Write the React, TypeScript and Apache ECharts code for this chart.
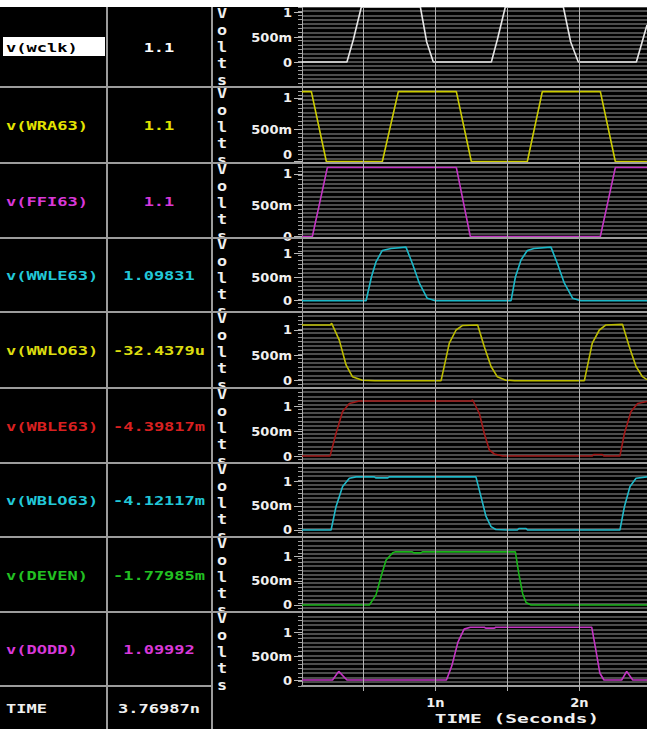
import React, { useEffect, useRef } from "react";
import * as echarts from "echarts";

// ---------- data ----------
const signalNames = ["v(wclk)", "v(WRA63)", "v(FFI63)", "v(WWLE63)", "v(WWLO63)", "v(WBLE63)", "v(WBLO63)", "v(DEVEN)", "v(DODD)"];
const cursorValues = ["1.1", "1.1", "1.1", "1.09831", "-32.4379u", "-4.39817m", "-4.12117m", "-1.77985m", "1.09992"];
const cursorTimeName = "TIME";
const cursorTimeValue = "3.76987n";
const yTitleLetters = ["V", "o", "l", "t", "s"];
const xAxisTitle = "TIME (Seconds)";
const yMajorTicks = [0, 0.5, 1];
const xGridTicks = [0.5, 1, 1.5, 2];
const xLabelTicks = [1, 2];
const timeRange = [0.074, 2.47];

const wclk = [[0.074, 0], [0.386, 0], [0.43, 0.44], [0.486, 1.1], [0.896, 1.1], [0.94, 0.4], [0.986, 0], [1.389, 0], [1.43, 0.44], [1.486, 1.1], [1.889, 1.1], [1.94, 0.4], [1.993, 0], [2.396, 0], [2.47, 0.74]];
const wra63 = [[0.074, 1.1], [0.139, 1.1], [0.243, 0], [0.632, 0], [0.743, 1.1], [1.146, 1.1], [1.25, 0], [1.639, 0], [1.743, 1.1], [2.146, 1.1], [2.25, 0], [2.47, 0]];
const ffi63 = [[0.074, 0], [0.146, 0], [0.25, 1.1], [1.146, 1.1], [1.243, 0], [2.146, 0], [2.25, 1.1], [2.47, 1.1]];
const wwle63 = [[0.074, 0], [0.519, 0], [0.556, 0.5], [0.588, 0.82], [0.632, 1.06], [0.692, 1.1], [0.796, 1.13], [0.84, 0.79], [0.889, 0.37], [0.944, 0.05], [1.0, 0], [1.526, 0], [1.556, 0.5], [1.595, 0.86], [1.639, 1.06], [1.685, 1.1], [1.803, 1.13], [1.847, 0.79], [1.896, 0.37], [1.954, 0.05], [2.01, 0], [2.47, 0]];
const wwlo63 = [[0.074, 1.1], [0.27, 1.1], [0.28, 1.13], [0.333, 0.8], [0.38, 0.31], [0.424, 0.08], [0.493, 0.01], [0.58, 0], [1.04, 0], [1.097, 0.74], [1.144, 1.0], [1.19, 1.09], [1.294, 1.1], [1.34, 0.67], [1.387, 0.28], [1.43, 0.08], [1.49, 0.01], [1.55, 0], [2.035, 0], [2.09, 0.74], [2.139, 1.0], [2.185, 1.1], [2.3, 1.11], [2.347, 0.67], [2.394, 0.28], [2.438, 0.08], [2.47, 0.02]];
const wble63 = [[0.074, 0], [0.269, 0], [0.31, 0.45], [0.356, 0.89], [0.403, 1.05], [0.472, 1.1], [1.25, 1.1], [1.259, 1.12], [1.306, 0.85], [1.34, 0.45], [1.375, 0.12], [1.41, 0.04], [1.467, 0], [2.09, 0], [2.1, 0.03], [2.16, 0.03], [2.17, 0], [2.282, 0], [2.313, 0.45], [2.359, 0.89], [2.405, 1.05], [2.47, 1.09]];
const wblo63 = [[0.074, 0], [0.276, 0], [0.31, 0.48], [0.356, 0.9], [0.403, 1.07], [0.449, 1.1], [0.576, 1.1], [0.586, 1.08], [0.67, 1.08], [0.68, 1.1], [1.282, 1.1], [1.317, 0.69], [1.352, 0.28], [1.387, 0.07], [1.42, 0.01], [1.5, 0], [1.57, 0], [1.58, 0.03], [1.63, 0.03], [1.64, 0], [2.282, 0], [2.313, 0.48], [2.352, 0.9], [2.394, 1.07], [2.47, 1.1]];
const deven = [[0.074, 0], [0.542, 0], [0.588, 0.21], [0.623, 0.59], [0.658, 0.93], [0.704, 1.08], [0.72, 1.1], [0.84, 1.1], [0.85, 1.08], [0.9, 1.08], [0.91, 1.1], [1.556, 1.1], [1.579, 0.66], [1.606, 0.24], [1.63, 0.05], [1.665, 0], [2.47, 0]];
const dodd = [[0.074, 0], [0.286, 0], [0.329, 0.18], [0.386, 0], [1.077, 0], [1.114, 0.29], [1.157, 0.79], [1.2, 1.06], [1.243, 1.1], [1.34, 1.1], [1.35, 1.08], [1.41, 1.08], [1.42, 1.1], [2.086, 1.1], [2.114, 0.64], [2.143, 0.14], [2.171, 0], [2.294, 0], [2.329, 0.18], [2.371, 0], [2.47, 0]];
const waveforms = [wclk, wra63, ffi63, wwle63, wwlo63, wble63, wblo63, deven, dodd];

// ---------- styles / layout ----------
const W = 647;
const H = 729;
const ROW_EDGES = [7, 87, 163, 238, 312, 388, 463, 537, 612, 686];
const Y_RANGES = [[-0.5, 1.1], [-0.024, 1.173], [-0.024, 1.173], [-0.238, 1.323], [-0.144, 1.355], [-0.14, 1.36], [-0.145, 1.387], [-0.145, 1.408], [-0.125, 1.417]];
const TEXT_COLORS = ["#000000", "#e4e400", "#d838d8", "#22c8d8", "#dcdc10", "#d82020", "#22c8d8", "#22c022", "#d838d8"];
const VALUE_COLORS = ["#ffffff", "#e4e400", "#d838d8", "#22c8d8", "#dcdc10", "#d82020", "#22c8d8", "#22c022", "#d838d8"];
const LINE_COLORS = ["#e6e6e6", "#cccc00", "#c434c4", "#1ab8c8", "#bcbc00", "#a01818", "#20b8c8", "#18b418", "#c434c4"];
const PLOT_LEFT = 302;
const MONO = "DejaVu Sans Mono";
const SANS = "DejaVu Sans";
const DIV_COLOR = "#9c9c9c";
const LETTER_OFFSETS = [6.5, 23.5, 40, 56, 73];
// rows whose bottom "0" label would collide with the next row's "1" label
const RAISED_ZERO_ROWS = [1];

function fmtVolt(v: number): string {
  if (Math.abs(v) < 1e-9) return "0";
  if (Math.abs(v - 0.5) < 1e-9) return "500m";
  if (Math.abs(v - 1) < 1e-9) return "1";
  return String(v);
}

function monoText(text: string, x: number, y: number, color: string, align: string, opts: any = {}) {
  return {
    type: "text",
    x,
    y,
    scaleX: opts.scaleX ?? 1.42,
    z: opts.z ?? 50,
    style: {
      text,
      fill: color,
      fontFamily: MONO,
      fontWeight: "bold",
      fontSize: opts.fontSize ?? 12,
      align,
      verticalAlign: "middle",
      textAlign: align,
      textVerticalAlign: "middle",
    },
  };
}

const labelFont = {
  color: "#f0f0f0",
  fontFamily: SANS,
  fontWeight: "bold",
  fontSize: 13,
  margin: 10,
};

function buildOption() {
  const grid: any[] = [];
  const xAxis: any[] = [];
  const yAxis: any[] = [];
  const series: any[] = [];
  const graphic: any[] = [];

  for (let i = 0; i < waveforms.length; i++) {
    const top = ROW_EDGES[i];
    const h = ROW_EDGES[i + 1] - top;
    const last = i === waveforms.length - 1;
    const raised = RAISED_ZERO_ROWS.includes(i);
    grid.push({ left: PLOT_LEFT, top, width: W - PLOT_LEFT, height: h, show: false });
    xAxis.push({
      type: "value",
      gridIndex: i,
      min: timeRange[0],
      max: timeRange[1],
      axisLine: { show: last, lineStyle: { color: "#a0a0a0", width: 2 } },
      axisTick: { show: last, customValues: xGridTicks, length: 5, lineStyle: { color: "#b0b0b0" } },
      axisLabel: {
        show: last,
        customValues: xLabelTicks,
        formatter: (v: number) => `${v}n`,
        ...labelFont,
      },
      splitLine: { show: false },
    });
    const n = Math.round(h / 4.25);
    // stripe axis (screen raster lines + small ticks)
    yAxis.push({
      type: "value",
      gridIndex: i,
      position: "left",
      min: 0,
      max: n,
      interval: 1,
      axisLine: { show: true, lineStyle: { color: "#a8a8a8", width: 1 } },
      axisTick: { show: true, length: 4, lineStyle: { color: "#a0a0a0" } },
      axisLabel: { show: false },
      splitLine: { show: true, lineStyle: { color: "#4c4c4c", width: 2 } },
    });
    // voltage axis
    const voltIndex = yAxis.length;
    yAxis.push({
      type: "value",
      gridIndex: i,
      position: "left",
      min: Y_RANGES[i][0],
      max: Y_RANGES[i][1],
      axisLine: { show: false },
      axisTick: { show: true, customValues: yMajorTicks, length: 8, lineStyle: { color: "#b8b8b8" } },
      axisLabel: {
        show: true,
        customValues: raised ? yMajorTicks.filter((v) => v !== 0) : yMajorTicks,
        formatter: fmtVolt,
        ...labelFont,
      },
      splitLine: { show: false },
    });
    if (raised) {
      yAxis.push({
        type: "value",
        gridIndex: i,
        position: "left",
        min: Y_RANGES[i][0],
        max: Y_RANGES[i][1],
        axisLine: { show: false },
        axisTick: { show: false },
        axisLabel: {
          show: true,
          customValues: yMajorTicks.filter((v) => v === 0),
          formatter: fmtVolt,
          verticalAlign: "bottom",
          ...labelFont,
        },
        splitLine: { show: false },
      });
    }
    series.push({
      type: "line",
      name: signalNames[i],
      xAxisIndex: i,
      yAxisIndex: voltIndex,
      data: waveforms[i],
      symbol: "none",
      showSymbol: false,
      lineStyle: { color: LINE_COLORS[i], width: 1.6 },
      markLine: {
        silent: true,
        symbol: ["none", "none"],
        label: { show: false },
        lineStyle: { color: "#b4b4b4", width: 1, type: "solid" },
        emphasis: { disabled: true },
        data: xGridTicks.map((v) => ({ xAxis: v })),
      },
    });

    // table texts
    const cy = (top + ROW_EDGES[i + 1]) / 2 + 1;
    if (i === 0) {
      graphic.push({ type: "rect", shape: { x: 3, y: 37, width: 102, height: 19 }, style: { fill: "#ffffff" }, z: 40 });
    }
    graphic.push(monoText(signalNames[i], 6, cy, TEXT_COLORS[i], "left"));
    graphic.push(monoText(cursorValues[i], 159, cy, VALUE_COLORS[i], "center"));

    // "Volts" vertical letters, clipped by next row's backing rect
    graphic.push({ type: "rect", shape: { x: 213, y: top + 1, width: 22, height: h - 1 }, style: { fill: "#000000" }, z: 10 + 2 * i });
    yTitleLetters.forEach((ch, k) => {
      graphic.push(monoText(ch, 222, top + LETTER_OFFSETS[k], "#f0f0f0", "center", { fontSize: 14, scaleX: 1.2, z: 11 + 2 * i }));
    });
  }

  // TIME row
  graphic.push(monoText(cursorTimeName, 6, 709, "#f0f0f0", "left"));
  graphic.push(monoText(cursorTimeValue, 159, 709, "#f0f0f0", "center"));
  graphic.push(monoText(xAxisTitle, 517, 719, "#f0f0f0", "center", { fontSize: 13, scaleX: 1.5 }));

  // dividers
  for (let i = 1; i < ROW_EDGES.length - 1; i++) {
    graphic.push({ type: "line", shape: { x1: 0, y1: ROW_EDGES[i], x2: W, y2: ROW_EDGES[i] }, style: { stroke: DIV_COLOR, lineWidth: 2 }, z: 100 });
  }
  const lastEdge = ROW_EDGES[ROW_EDGES.length - 1];
  graphic.push({ type: "line", shape: { x1: 0, y1: lastEdge, x2: 212, y2: lastEdge }, style: { stroke: DIV_COLOR, lineWidth: 2 }, z: 100 });
  graphic.push({ type: "line", shape: { x1: 107, y1: 7, x2: 107, y2: H }, style: { stroke: DIV_COLOR, lineWidth: 2 }, z: 100 });
  graphic.push({ type: "line", shape: { x1: 212, y1: 7, x2: 212, y2: H }, style: { stroke: DIV_COLOR, lineWidth: 2 }, z: 100 });
  graphic.push({ type: "rect", shape: { x: 0, y: 0, width: W, height: 7 }, style: { fill: "#ffffff" }, z: 200 });

  return {
    animation: false,
    backgroundColor: "#000000",
    grid,
    xAxis,
    yAxis,
    series,
    graphic: { elements: graphic },
  };
}

export default function App() {
  const ref = useRef<HTMLDivElement>(null);
  useEffect(() => {
    if (!ref.current) return;
    const chart = echarts.init(ref.current, undefined, { renderer: "svg" });
    chart.setOption(buildOption() as any);
    return () => chart.dispose();
  }, []);
  return <div ref={ref} style={{ position: "fixed", left: 0, top: 0, width: W, height: H }} />;
}
